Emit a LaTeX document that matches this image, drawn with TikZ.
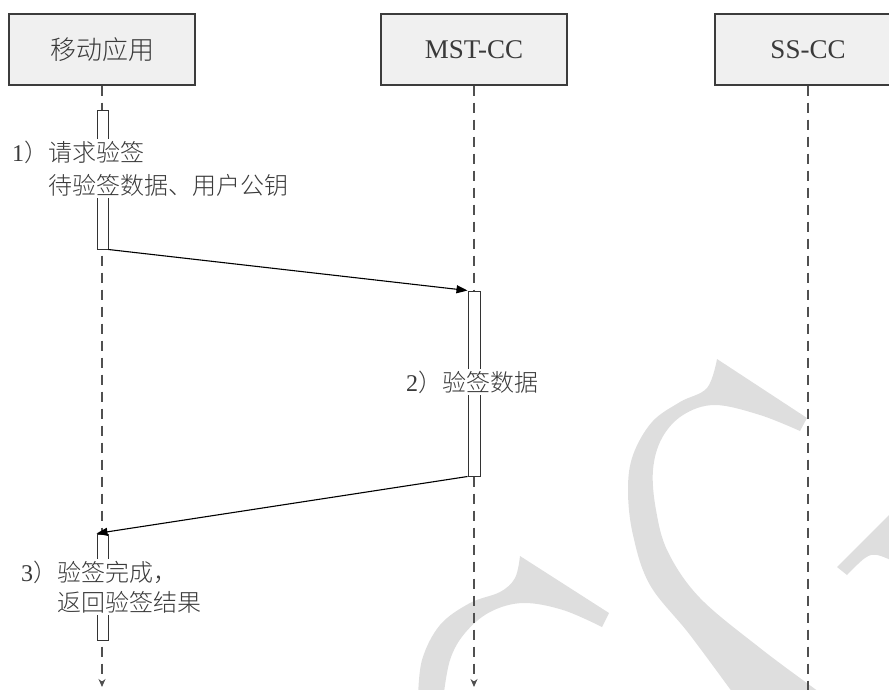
\documentclass[tikz,border=0pt]{standalone}
\usepackage{fontspec}
\setmainfont{Liberation Serif}
\newfontfamily\cjk{Noto Sans CJK SC Light}
\usetikzlibrary{arrows.meta}
\definecolor{boxc}{HTML}{3C3C3C}
\definecolor{boxf}{HTML}{F0F0F0}
\definecolor{barc}{HTML}{333333}
\definecolor{lifec}{HTML}{505050}
\definecolor{txt}{HTML}{3A3A3A}
\definecolor{wmc}{HTML}{DEDEDE}
\begin{document}
\begin{tikzpicture}[x=1pt,y=-1pt,
  actor/.style={draw=boxc, fill=boxf, line width=1.4pt, minimum width=186pt, minimum height=71pt, inner sep=0pt, text=txt},
  bar/.style={draw=barc, fill=white, line width=1pt, minimum width=11pt, inner sep=0pt},
  life/.style={draw=lifec, line width=1.3pt, dash pattern=on 10.5pt off 6.5pt, -{Stealth[length=8pt,width=7pt]}},
  msg/.style={draw=black, line width=1.1pt, -{Triangle[length=11pt,width=8pt]}},
  lab/.style={fill=white, inner sep=2pt, text=txt, align=left, anchor=west},
  wm/.style={fill=wmc}]
\useasboundingbox (0,0) rectangle (889,689);
\clip (0,0) rectangle (889,689);
% watermark
\fill[wm] (717,359) -- (807,418) -- (800,431)
  -- plot[smooth, tension=0.6] coordinates {(800,431) (760,415) (715,405) (683,415) (662,438) (653,470) (656,510) (668,552) (700,598) (760,648) (815,689) (830,700)}
  -- (738,700)
  -- plot[smooth, tension=0.6] coordinates {(738,700) (690,635) (650,585) (633,535) (628,490) (633,455) (652,422) (680,402) (707,388) (717,359)}
  -- cycle;
\fill[wm] (520,556) -- (609,613) -- (602,627)
  -- plot[smooth, tension=0.6] coordinates {(602,627) (563,610) (523,603) (490,612) (465,633) (450,660) (443,700)}
  -- (418,700)
  -- plot[smooth, tension=0.6] coordinates {(418,700) (422,660) (440,625) (470,603) (500,592) (515,578) (520,556)}
  -- cycle;
\fill[wm] (837,567) -- (895,509) -- (895,562)
  -- plot[smooth, tension=0.6] coordinates {(895,562) (877,555) (865,558) (847,575)}
  -- cycle;
% actors
\node[actor] (app) at (102,49.5) {\cjk\fontsize{26}{30}\selectfont 移动应用};
\node[actor] (mst) at (474,49.5) {\fontsize{27}{30}\selectfont MST-CC};
\node[actor] (ss) at (808,49.5) {\fontsize{27}{30}\selectfont SS-CC};
\coordinate (append) at (102,687);
\coordinate (mstend) at (474,687);
\coordinate (ssend) at (808,700);
% lifelines
\draw[life] (app.south) -- (append);
\draw[life] (mst.south) -- (mstend);
\draw[life] (ss.south) -- (ssend);
% activation bars
\node[bar, minimum height=139pt] (b1) at (102.5,179.5) {};
\node[bar, minimum height=185pt, minimum width=12pt] (b2) at (474,383.5) {};
\node[bar, minimum height=106pt] (b3) at (102.5,587) {};
% labels
\node[lab, font=\fontsize{24}{33}\selectfont] (l1) at (10,168.5) {1{\cjk）请求验签}\\\phantom{1{\cjk）}}{\cjk 待验签数据、用户公钥}};
\node[lab, font=\fontsize{24}{30}\selectfont] (l2) at (404,382) {2{\cjk）验签数据}};
\node[lab, font=\fontsize{24}{30}\selectfont] (l3) at (19,587) {3{\cjk）验签完成，}\\\phantom{3{\cjk）}}{\cjk 返回验签结果}};
% messages
\draw[msg] (b1.south east) -- (b2.north west);
\draw[msg] (b2.south west) -- (b3.north west);
\end{tikzpicture}
\end{document}
